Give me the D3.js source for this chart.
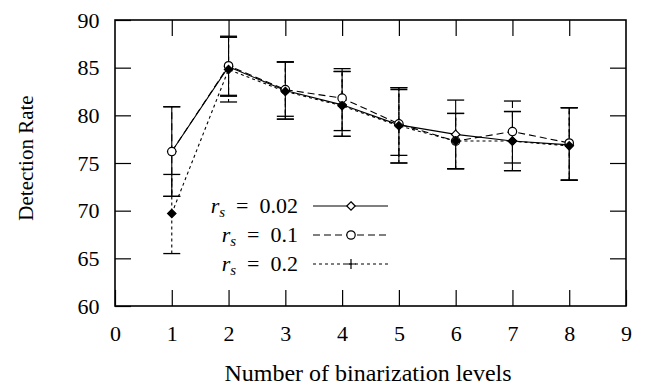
<!DOCTYPE html>
<html>
<head>
<meta charset="utf-8">
<script src="https://cdn.jsdelivr.net/npm/d3@7"></script>
<style>
  body { margin: 0; background: #fff; }
  svg { display: block; }
  text { font-family: "Liberation Serif", "DejaVu Serif", serif; fill: #000; }
</style>
</head>
<body>
<svg id="chart" width="647" height="391"></svg>
<script>
// data
var levels = [1, 2, 3, 4, 5, 6, 7, 8];

var rate002 = [76.2, 85.1, 82.6, 81.1, 79.0, 78.0, 77.3, 76.9];
var low002  = [71.5, 82.0, 79.6, 77.8, 75.0, 74.4, 74.2, 73.2];
var high002 = [80.9, 88.2, 85.6, 84.6, 82.9, 81.6, 80.4, 80.8];

var rate01  = [76.2, 85.2, 82.7, 81.8, 79.1, 77.3, 78.3, 77.1];
var low01   = [71.5, 82.1, 79.9, 78.4, 75.8, 74.4, 75.0, 73.2];
var high01  = [80.9, 88.3, 85.6, 84.9, 82.7, 80.2, 81.5, 80.8];

var rate02  = [69.7, 84.8, 82.5, 81.0, 78.9, 77.3, 77.3, 76.8];
var low02   = [65.5, 81.4, 79.6, 77.8, 75.0, 74.4, 74.2, 73.2];
var high02  = [73.8, 88.2, 85.6, 84.6, 82.9, 80.2, 80.4, 80.8];

var xTicks = [0, 1, 2, 3, 4, 5, 6, 7, 8, 9];
var yTicks = [60, 65, 70, 75, 80, 85, 90];

var svg = d3.select('#chart');
var padding = [20, 21, 85, 115]; // top, right, bottom, left
var width = +svg.attr('width'), height = +svg.attr('height');

var xScale = d3.scaleLinear().domain([0, 9]).range([padding[3], width - padding[1]]);
var yScale = d3.scaleLinear().domain([60, 90]).range([height - padding[2], padding[0]]);

var tickLen = 16;

// axes (ticks pointing inward, mirrored on top/right)
var xAxisB = d3.axisBottom(xScale).tickValues(xTicks).tickSizeInner(-tickLen).tickSizeOuter(0).tickPadding(19);
var xAxisT = d3.axisTop(xScale).tickValues(xTicks.slice(1, -1)).tickSizeInner(-tickLen).tickSizeOuter(0).tickFormat('');
var yAxisL = d3.axisLeft(yScale).tickValues(yTicks).tickSizeInner(-tickLen).tickSizeOuter(0).tickPadding(15.5);
var yAxisR = d3.axisRight(yScale).tickValues(yTicks.slice(1, -1)).tickSizeInner(-tickLen).tickSizeOuter(0).tickFormat('');

function styleAxis(g) {
    g.attr('font-family', null).attr('font-size', null);
    g.select('.domain').remove();
    g.selectAll('line').attr('stroke', '#000').attr('stroke-width', 1.2);
    g.selectAll('text').style('font-family', '"Liberation Serif", serif').style('font-size', '22px').attr('fill', '#000');
}

svg.append('g').attr('transform', 'translate(0,' + yScale(60) + ')').call(xAxisB).call(styleAxis);
svg.append('g').attr('transform', 'translate(0,' + yScale(90) + ')').call(xAxisT).call(styleAxis);
svg.append('g').attr('transform', 'translate(' + xScale(0) + ',0)').call(yAxisL).call(styleAxis);
svg.append('g').attr('transform', 'translate(' + xScale(9) + ',0)').call(yAxisR).call(styleAxis);

// frame
svg.append('rect')
    .attr('x', xScale(0)).attr('y', yScale(90))
    .attr('width', xScale(9) - xScale(0)).attr('height', yScale(60) - yScale(90))
    .attr('fill', 'none').attr('stroke', '#000').attr('stroke-width', 1.6);

// axis titles
svg.append('text')
    .attr('x', 368).attr('y', 381)
    .attr('text-anchor', 'middle').style('font-size', '24px')
    .text('Number of binarization levels');
svg.append('text')
    .attr('transform', 'translate(33,158) rotate(-90)')
    .attr('text-anchor', 'middle').style('font-size', '21px')
    .text('Detection Rate');

var series = [
    { name: '0.02', rate: rate002, low: low002, high: high002, dash: null, marker: 'diamondOpen' },
    { name: '0.1', rate: rate01, low: low01, high: high01, dash: '7,4', marker: 'circleOpen' },
    { name: '0.2', rate: rate02, low: low02, high: high02, dash: '3,3', marker: 'diamondFill' }
];

var line = d3.line()
    .x(function (d) { return xScale(d[0]); })
    .y(function (d) { return yScale(d[1]); });

var capW = 8.5;

function drawMarker(g, type, cx, cy) {
    if (type === 'diamondOpen' || type === 'diamondFill') {
        g.append('path')
            .attr('d', d3.symbol().type(d3.symbolDiamond2).size(45)())
            .attr('transform', 'translate(' + cx + ',' + cy + ')')
            .attr('fill', type === 'diamondFill' ? '#000' : '#fff')
            .attr('stroke', '#000').attr('stroke-width', 1.2);
    } else if (type === 'circleOpen') {
        g.append('circle').attr('cx', cx).attr('cy', cy).attr('r', 4.2)
            .attr('fill', '#fff').attr('stroke', '#000').attr('stroke-width', 1.2);
    } else if (type === 'plus') {
        g.append('path')
            .attr('d', 'M' + (cx - 5) + ',' + cy + 'H' + (cx + 5) + 'M' + cx + ',' + (cy - 5) + 'V' + (cy + 5))
            .attr('stroke', '#000').attr('stroke-width', 1.2);
    }
}

var graphG = svg.append('g').attr('class', 'graphG');

series.forEach(function (s) {
    var g = graphG.append('g');
    var pts = levels.map(function (x, i) { return [x, s.rate[i]]; });
    g.append('path').attr('d', line(pts))
        .attr('fill', 'none').attr('stroke', '#000').attr('stroke-width', 1.1)
        .attr('stroke-dasharray', s.dash);
    levels.forEach(function (x, i) {
        var cx = xScale(x);
        g.append('line')
            .attr('x1', cx).attr('x2', cx)
            .attr('y1', yScale(s.low[i])).attr('y2', yScale(s.high[i]))
            .attr('stroke', '#000').attr('stroke-width', 1.1)
            .attr('stroke-dasharray', s.dash);
        [s.low[i], s.high[i]].forEach(function (v) {
            g.append('line')
                .attr('x1', cx - capW).attr('x2', cx + capW)
                .attr('y1', yScale(v)).attr('y2', yScale(v))
                .attr('stroke', '#000').attr('stroke-width', 1.3);
        });
    });
});
series.forEach(function (s) {
    var g = graphG.append('g');
    levels.forEach(function (x, i) {
        drawMarker(g, s.marker, xScale(x), yScale(s.rate[i]));
    });
});

// legend
var legend = svg.append('g').attr('class', 'legend');
var legendMarkers = ['diamondOpen', 'circleOpen', 'plus'];
var rowY = [206, 235, 264];
series.forEach(function (s, i) {
    var y = rowY[i];
    var t = legend.append('text')
        .attr('x', 298).attr('y', y + 7)
        .attr('text-anchor', 'end').style('font-size', '22px');
    t.append('tspan').style('font-style', 'italic').text('r');
    t.append('tspan').style('font-style', 'italic').style('font-size', '15px').attr('dy', 4).text('s');
    t.append('tspan').attr('dy', -4).text('\u2002=\u2002' + s.name);
    legend.append('line')
        .attr('x1', 313).attr('x2', 388).attr('y1', y).attr('y2', y)
        .attr('stroke', '#000').attr('stroke-width', 1.1)
        .attr('stroke-dasharray', s.dash);
    drawMarker(legend, legendMarkers[i], 351, y);
});
</script>
</body>
</html>
